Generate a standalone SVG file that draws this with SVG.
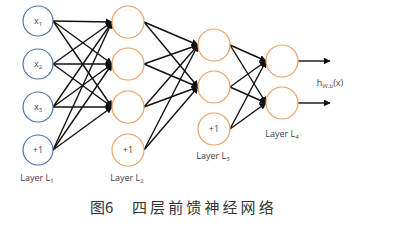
<svg xmlns="http://www.w3.org/2000/svg" width="395" height="227" viewBox="0 0 395 227">
<defs>
<marker id="ah" viewBox="0 0 10 10" refX="9" refY="5" markerWidth="5" markerHeight="5" orient="auto" markerUnits="strokeWidth">
<path d="M0,0 L10,5 L0,10 z" fill="#111"/>
</marker>
<style>
.b{fill:#fff;stroke:#4f74b0;stroke-width:1.2}
.o{fill:#fff;stroke:#f0a060;stroke-width:1.2}
.e{stroke:#111;stroke-width:1.4;fill:none;marker-end:url(#ah)}
.t{font-family:"Open Sans","Liberation Sans",sans-serif;font-size:9px;fill:#444;text-anchor:middle}
.s{font-size:6px}
.cap{font-family:"Noto Sans CJK SC",sans-serif;font-size:15px;fill:#333}
</style>
</defs>
<rect width="395" height="227" fill="#fff"/>
<g id="connectors">
<line class="e" x1="53" y1="21" x2="112" y2="22"/>
<line class="e" x1="53" y1="21" x2="112" y2="64"/>
<line class="e" x1="53" y1="21" x2="112" y2="107"/>
<line class="e" x1="53" y1="64" x2="112" y2="22"/>
<line class="e" x1="53" y1="64" x2="112" y2="64"/>
<line class="e" x1="53" y1="64" x2="112" y2="107"/>
<line class="e" x1="53" y1="107" x2="112" y2="22"/>
<line class="e" x1="53" y1="107" x2="112" y2="64"/>
<line class="e" x1="53" y1="107" x2="112" y2="107"/>
<line class="e" x1="53" y1="150" x2="112" y2="22"/>
<line class="e" x1="53" y1="150" x2="112" y2="64"/>
<line class="e" x1="53" y1="150" x2="112" y2="107"/>
<line class="e" x1="144" y1="22" x2="198" y2="45"/>
<line class="e" x1="144" y1="22" x2="198" y2="87"/>
<line class="e" x1="144" y1="64" x2="198" y2="45"/>
<line class="e" x1="144" y1="64" x2="198" y2="87"/>
<line class="e" x1="144" y1="107" x2="198" y2="45"/>
<line class="e" x1="144" y1="107" x2="198" y2="87"/>
<line class="e" x1="144" y1="150" x2="198" y2="45"/>
<line class="e" x1="144" y1="150" x2="198" y2="87"/>
<line class="e" x1="230" y1="45" x2="266" y2="61"/>
<line class="e" x1="230" y1="45" x2="266" y2="103"/>
<line class="e" x1="230" y1="87" x2="266" y2="61"/>
<line class="e" x1="230" y1="87" x2="266" y2="103"/>
<line class="e" x1="230" y1="129" x2="266" y2="61"/>
<line class="e" x1="230" y1="129" x2="266" y2="103"/>
<line class="e" x1="298" y1="61" x2="330" y2="61"/>
<line class="e" x1="298" y1="103" x2="330" y2="103"/>
</g>
<g id="x1"><circle class="b" cx="38" cy="21" r="15"/><text class="t" x="38" y="24">x<tspan class="s" dy="2">1</tspan></text></g>
<g id="x2"><circle class="b" cx="38" cy="64" r="15"/><text class="t" x="38" y="67">x<tspan class="s" dy="2">2</tspan></text></g>
<g id="x3"><circle class="b" cx="38" cy="107" r="15"/><text class="t" x="38" y="110">x<tspan class="s" dy="2">3</tspan></text></g>
<g id="b1"><circle class="b" cx="38" cy="150" r="15"/><text class="t" x="38" y="153">+1</text></g>
<g id="h21"><circle class="o" cx="128" cy="22" r="16"/></g>
<g id="h22"><circle class="o" cx="128" cy="64" r="16"/></g>
<g id="h23"><circle class="o" cx="128" cy="107" r="16"/></g>
<g id="b2"><circle class="o" cx="128" cy="150" r="16"/><text class="t" x="128" y="153">+1</text></g>
<g id="h31"><circle class="o" cx="214" cy="45" r="16"/></g>
<g id="h32"><circle class="o" cx="214" cy="87" r="16"/></g>
<g id="b3"><circle class="o" cx="214" cy="129" r="16"/><text class="t" x="214" y="132">+1</text></g>
<g id="h41"><circle class="o" cx="282" cy="61" r="16"/></g>
<g id="h42"><circle class="o" cx="282" cy="103" r="16"/></g>
<g id="labels">
<text class="t" x="37" y="181">Layer L<tspan class="s" dy="2">1</tspan></text>
<text class="t" x="127" y="181">Layer L<tspan class="s" dy="2">2</tspan></text>
<text class="t" x="213" y="159">Layer L<tspan class="s" dy="2">3</tspan></text>
<text class="t" x="282" y="137">Layer L<tspan class="s" dy="2">4</tspan></text>
<text class="t" x="330" y="86">h<tspan class="s" dy="2">W,b</tspan><tspan dy="-2">(x)</tspan></text>
</g>
<text class="cap" x="90" y="213">图6<tspan x="132" letter-spacing="3.1">四层前馈神经网络</tspan></text>
</svg>
